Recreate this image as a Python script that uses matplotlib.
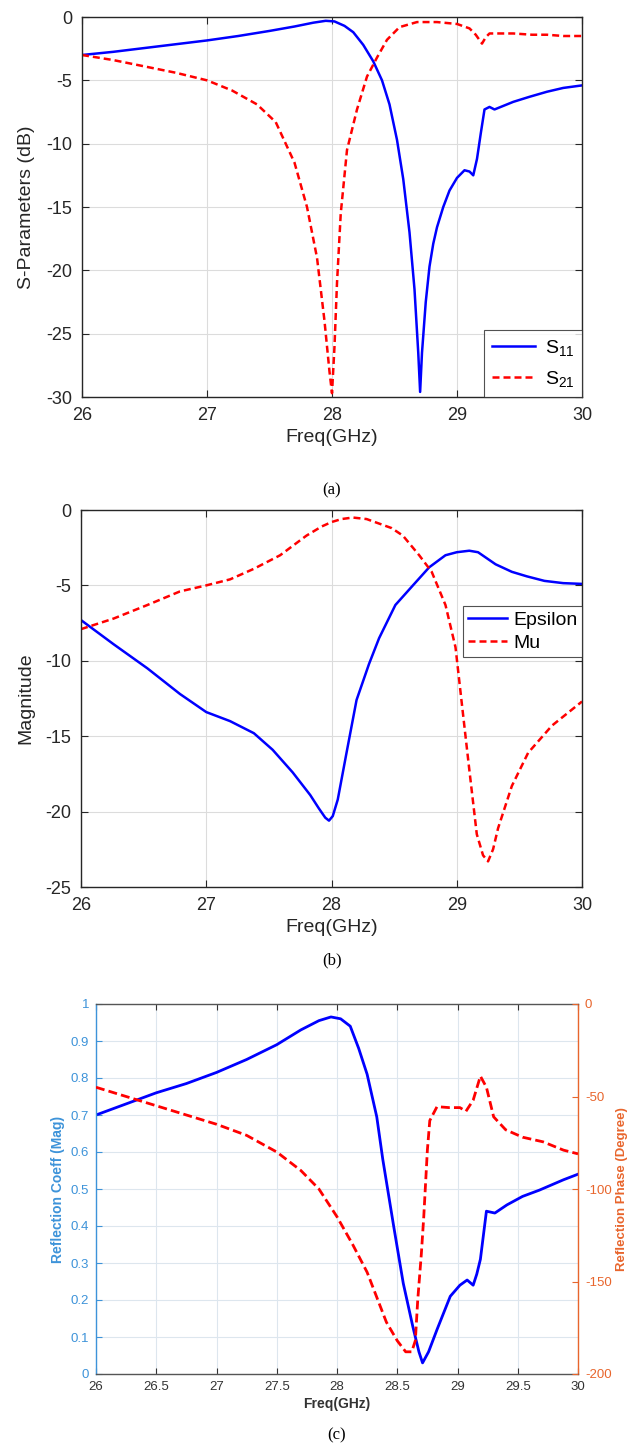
import matplotlib
matplotlib.use("Agg")
import matplotlib.pyplot as plt
from matplotlib.ticker import MultipleLocator, FormatStrFormatter

plt.rcParams['font.family'] = ['Liberation Sans', 'DejaVu Sans']
plt.rcParams['mathtext.default'] = 'regular'
plt.rcParams['axes.unicode_minus'] = False

# ---- panel (a): S-parameters ----
freq_s11 = [26.0, 26.25, 26.5, 26.75, 27.0, 27.25, 27.5, 27.7, 27.85, 27.95, 28.02, 28.1,
            28.17, 28.25, 28.33, 28.4, 28.46, 28.52, 28.57, 28.62, 28.66, 28.69, 28.705,
            28.72, 28.75, 28.78, 28.81, 28.84, 28.89, 28.94, 29.0, 29.06, 29.1, 29.13,
            29.16, 29.19, 29.22, 29.26, 29.3, 29.35, 29.45, 29.58, 29.72, 29.85, 30.0]
s11 = [-3.0, -2.75, -2.45, -2.15, -1.85, -1.5, -1.1, -0.75, -0.45, -0.3, -0.35, -0.7,
       -1.2, -2.2, -3.5, -5.0, -6.9, -9.7, -12.8, -17.0, -21.5, -26.5, -29.6,
       -26.5, -22.5, -19.7, -17.9, -16.6, -15.0, -13.7, -12.7, -12.1, -12.2, -12.5,
       -11.2, -9.2, -7.3, -7.1, -7.3, -7.1, -6.7, -6.3, -5.9, -5.6, -5.4]

freq_s21 = [26.0, 26.25, 26.5, 26.75, 27.0, 27.2, 27.4, 27.55, 27.7, 27.8, 27.88, 27.94,
            27.98, 28.0, 28.02, 28.04, 28.07, 28.12, 28.2, 28.28, 28.36, 28.44, 28.54,
            28.68, 28.84, 29.0, 29.1, 29.15, 29.2, 29.23, 29.26, 29.35, 29.45, 29.6,
            29.72, 29.85, 30.0]
s21 = [-3.0, -3.4, -3.9, -4.4, -5.0, -5.8, -6.9, -8.3, -11.5, -15.0, -19.0, -24.0,
       -28.0, -29.7, -26.0, -21.0, -15.5, -10.5, -7.3, -4.7, -3.2, -1.8, -0.8,
       -0.4, -0.4, -0.55, -0.9, -1.4, -2.1, -1.6, -1.3, -1.3, -1.3, -1.4,
       -1.4, -1.5, -1.5]

# ---- panel (b): Epsilon / Mu magnitude ----
freq_eps = [26.0, 26.26, 26.53, 26.79, 27.0, 27.19, 27.38, 27.53, 27.69, 27.83, 27.9,
            27.95, 27.98, 28.01, 28.05, 28.12, 28.2, 28.3, 28.38, 28.51, 28.65, 28.78,
            28.91, 29.0, 29.1, 29.17, 29.24, 29.31, 29.44, 29.56, 29.7, 29.85, 30.0]
eps = [-7.3, -8.9, -10.5, -12.2, -13.4, -14.0, -14.8, -15.9, -17.4, -18.9, -19.8,
       -20.4, -20.6, -20.3, -19.2, -16.1, -12.6, -10.2, -8.5, -6.3, -5.0, -3.8,
       -3.0, -2.8, -2.7, -2.8, -3.2, -3.6, -4.1, -4.4, -4.7, -4.85, -4.9]

freq_mu = [26.0, 26.26, 26.53, 26.79, 27.0, 27.19, 27.38, 27.59, 27.8, 27.92, 28.0, 28.08,
           28.17, 28.28, 28.38, 28.48, 28.57, 28.7, 28.8, 28.91, 28.99, 29.04, 29.1,
           29.16, 29.21, 29.25, 29.29, 29.33, 29.44, 29.57, 29.76, 30.0]
mu = [-7.9, -7.2, -6.3, -5.4, -5.0, -4.6, -3.9, -3.0, -1.7, -1.1, -0.8, -0.6,
      -0.5, -0.6, -0.9, -1.2, -1.7, -3.0, -4.1, -6.3, -9.1, -12.8, -17.2,
      -21.5, -22.9, -23.3, -22.5, -21.1, -18.3, -16.1, -14.3, -12.7]

# ---- panel (c): reflection coefficient ----
freq_mag = [26.0, 26.25, 26.5, 26.75, 27.0, 27.25, 27.5, 27.7, 27.85, 27.95, 28.03, 28.11,
            28.18, 28.25, 28.33, 28.38, 28.47, 28.55, 28.63, 28.68, 28.71, 28.76, 28.83,
            28.94, 29.02, 29.08, 29.13, 29.16, 29.19, 29.24, 29.31, 29.41, 29.54, 29.68,
            29.88, 30.0]
mag = [0.70, 0.73, 0.76, 0.785, 0.815, 0.85, 0.89, 0.93, 0.955, 0.965, 0.96, 0.94,
       0.88, 0.81, 0.695, 0.58, 0.40, 0.245, 0.127, 0.06, 0.03, 0.06, 0.12,
       0.21, 0.24, 0.254, 0.24, 0.27, 0.31, 0.44, 0.435, 0.457, 0.48, 0.497,
       0.525, 0.54]

freq_ph = [26.0, 26.25, 26.5, 26.75, 27.0, 27.25, 27.5, 27.7, 27.85, 28.0, 28.13, 28.25,
           28.41, 28.5, 28.57, 28.62, 28.65, 28.67, 28.7, 28.72, 28.75, 28.77, 28.83,
           28.93, 29.02, 29.07, 29.13, 29.19, 29.24, 29.3, 29.4, 29.54, 29.71, 29.88, 30.0]
phase = [-45, -50, -55, -60, -65, -71, -80, -90, -100, -115, -130, -145,
         -172, -182, -188, -188, -182, -160, -135, -115, -79, -63, -55.5,
         -56, -56, -58, -52, -39, -45, -61, -68, -72, -74.5, -79, -81]

BLUE = '#0000FF'
RED = '#FF0000'
AXC = '#262626'
LBLUE = '#3D93D9'
ORANGE = '#E8652C'

W, H = 636, 1446
fig = plt.figure(figsize=(W / 100, H / 100), dpi=100)


def box(l, t, r, b):
    return [l / W, 1 - b / H, (r - l) / W, (b - t) / H]


def style_matlab(ax, size):
    for s in ax.spines.values():
        s.set_color(AXC)
        s.set_linewidth(1.0)
    ax.tick_params(direction='in', length=5, width=0.8, colors=AXC,
                   labelsize=size, top=True, right=True, pad=7)
    ax.grid(True, color='#dcdcdc', linewidth=0.8)
    ax.set_axisbelow(True)


# (a)
ax_a = fig.add_axes(box(82, 17, 582, 397))
ax_a.plot(freq_s11, s11, color=BLUE, lw=1.8, label='S$_{11}$')
ax_a.plot(freq_s21, s21, color=RED, lw=1.8, dashes=(2.8, 1.6), label='S$_{21}$')
ax_a.set_xlim(26, 30)
ax_a.set_ylim(-30, 0)
ax_a.xaxis.set_major_locator(MultipleLocator(1))
ax_a.yaxis.set_major_locator(MultipleLocator(5))
style_matlab(ax_a, 13)
ax_a.set_xlabel('Freq(GHz)', fontsize=14, color=AXC, labelpad=4)
ax_a.set_ylabel('S-Parameters (dB)', fontsize=14, color=AXC, labelpad=8)
leg = ax_a.legend(loc='lower right', fontsize=14, borderaxespad=0, frameon=True,
                  fancybox=False, handlelength=2.2, handletextpad=0.5,
                  borderpad=0.4, labelspacing=0.6)
leg.get_frame().set_edgecolor(AXC)
leg.get_frame().set_linewidth(0.8)
fig.text(332 / W, 1 - 490 / H, '(a)', ha='center', va='center',
         fontsize=12, family='Liberation Serif')

# (b)
ax_b = fig.add_axes(box(81, 510, 582, 887))
ax_b.plot(freq_eps, eps, color=BLUE, lw=1.8, label='Epsilon')
ax_b.plot(freq_mu, mu, color=RED, lw=1.8, dashes=(2.8, 1.6), label='Mu')
ax_b.set_xlim(26, 30)
ax_b.set_ylim(-25, 0)
ax_b.xaxis.set_major_locator(MultipleLocator(1))
ax_b.yaxis.set_major_locator(MultipleLocator(5))
style_matlab(ax_b, 13)
ax_b.set_xlabel('Freq(GHz)', fontsize=14, color=AXC, labelpad=4)
ax_b.set_ylabel('Magnitude', fontsize=14, color=AXC, labelpad=8)
leg = ax_b.legend(loc='upper right', bbox_to_anchor=(1.0, 0.745), fontsize=14,
                  borderaxespad=0, frameon=True, fancybox=False,
                  handlelength=2.0, handletextpad=0.3, borderpad=0.25,
                  labelspacing=0.3)
leg.get_frame().set_edgecolor(AXC)
leg.get_frame().set_linewidth(0.8)
fig.text(332 / W, 1 - 960 / H, '(b)', ha='center', va='center',
         fontsize=12, family='Liberation Serif')

# (c)
ax_c = fig.add_axes(box(96, 1004, 578, 1374))
ax_c.plot(freq_mag, mag, color=BLUE, lw=2.0)
ax_c.set_xlim(26, 30)
ax_c.set_ylim(0, 1)
ax_c.xaxis.set_major_locator(MultipleLocator(0.5))
ax_c.yaxis.set_major_locator(MultipleLocator(0.1))
ax_c.xaxis.set_major_formatter(FormatStrFormatter('%g'))
ax_c.yaxis.set_major_formatter(FormatStrFormatter('%g'))
ax_c.grid(True, color='#dde6ee', linewidth=0.8)
ax_c.set_axisbelow(True)
for s in ax_c.spines.values():
    s.set_linewidth(1.0)
ax_c.spines['top'].set_color('#555555')
ax_c.spines['bottom'].set_color('#555555')
ax_c.spines['left'].set_color(LBLUE)
ax_c.spines['right'].set_color(ORANGE)
ax_c.tick_params(axis='x', direction='in', length=4, width=0.8, colors='#333333',
                 labelsize=9.5, top=True, pad=5)
ax_c.tick_params(axis='y', direction='in', length=4, width=0.8, colors=LBLUE,
                 labelsize=9.5, right=True, pad=5)
ax_c.set_xlabel('Freq(GHz)', fontsize=10, fontweight='bold', color='#333333', labelpad=3)
ax_c.set_ylabel('Reflection Coeff (Mag)', fontsize=10, fontweight='bold', color=LBLUE,
                labelpad=4)

ax_c2 = ax_c.twinx()
ax_c2.plot(freq_ph, phase, color=RED, lw=2.0, dashes=(3.2, 1.5))
ax_c2.set_ylim(-200, 0)
ax_c2.yaxis.set_major_locator(MultipleLocator(50))
for s in ax_c2.spines.values():
    s.set_visible(False)
ax_c2.tick_params(axis='y', direction='in', length=4, width=0.8, colors=ORANGE,
                  labelsize=9.5, pad=5)
ax_c2.set_ylabel('Reflection Phase (Degree)', fontsize=9.5, fontweight='bold',
                 color=ORANGE, labelpad=3)
fig.text(337 / W, 1 - 1435 / H, '(c)', ha='center', va='center',
         fontsize=12, family='Liberation Serif')

fig.savefig('out.png', dpi=100)
